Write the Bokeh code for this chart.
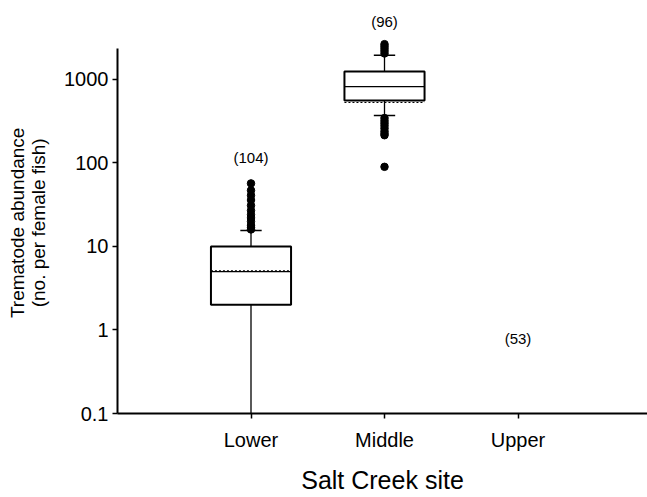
from bokeh.plotting import figure
from bokeh.models import FixedTicker, Range1d, CustomJSTickFormatter
from bokeh.core.properties import value
from bokeh.embed import file_html
from bokeh.resources import INLINE

# ---------------- data ----------------
sites = ["Lower", "Middle", "Upper"]
site_pos = [1, 2, 3]
n_fish = ["(104)", "(96)", "(53)"]
n_label_y = [115, 4950, 0.8]

box_pos = [1, 2]
q1 = [2.0, 560]
median = [5.0, 820]
q3 = [10.0, 1250]
mean = [5.1, 530]
whisk_lo = [0.01, 370]
whisk_hi = [15.5, 1950]

lower_outliers = [57, 47, 41, 36, 31, 27, 24, 22, 20, 18, 17, 16]
middle_outliers = [2050, 2200, 2350, 2500, 2650,
                   345, 320, 300, 280, 260, 240, 225, 215, 90]

y_ticks = [0.1, 1, 10, 100, 1000]
y_title = ["Trematode abundance", "(no. per female fish)"]
x_title = "Salt Creek site"

# ---------------- style ----------------
FONT = "Liberation Sans"
BOX_W = 0.6
CAP_W = 0.16
PAD = "\u00a0" * 6   # non-breaking padding: nudges the centred title a little lower

p = figure(width=647, height=497, y_axis_type="log",
           x_range=Range1d(0, 3.97), y_range=Range1d(0.1, 8830),
           output_backend="svg", toolbar_location=None,
           min_border_left=117, min_border_right=0,
           min_border_top=0, min_border_bottom=84)
p.outline_line_color = None
p.xgrid.visible = False
p.ygrid.visible = False
p.background_fill_color = "white"

# whiskers
p.segment(x0=box_pos, x1=box_pos, y0=whisk_lo, y1=q1, line_color="black", line_width=1.3)
p.segment(x0=box_pos, x1=box_pos, y0=q3, y1=whisk_hi, line_color="black", line_width=1.3)
cap_x0 = [x - CAP_W / 2 for x in box_pos]
cap_x1 = [x + CAP_W / 2 for x in box_pos]
p.segment(x0=cap_x0, x1=cap_x1, y0=whisk_hi, y1=whisk_hi, line_color="black", line_width=1.5)
p.segment(x0=cap_x0, x1=cap_x1, y0=whisk_lo, y1=whisk_lo, line_color="black", line_width=1.5)

# boxes
p.vbar(x=box_pos, width=BOX_W, bottom=q1, top=q3, fill_color="white",
       line_color="black", line_width=2)
bx0 = [x - BOX_W / 2 for x in box_pos]
bx1 = [x + BOX_W / 2 for x in box_pos]
p.segment(x0=bx0, x1=bx1, y0=median, y1=median, line_color="black", line_width=1.2)
p.segment(x0=bx0, x1=bx1, y0=mean, y1=mean, line_color="black", line_width=1.2,
          line_dash="2 2")

# outliers
p.scatter(x=[1] * len(lower_outliers), y=lower_outliers, size=7.5,
          fill_color="black", line_color="black")
p.scatter(x=[2] * len(middle_outliers), y=middle_outliers, size=7.5,
          fill_color="black", line_color="black")

# sample sizes
p.text(x=site_pos, y=n_label_y, text=n_fish, text_align="center",
       text_baseline="middle", text_font=value(FONT), text_font_size="15px",
       text_color="black")

# axes
p.xaxis.ticker = FixedTicker(ticks=site_pos)
p.xaxis.major_label_overrides = {k: s for k, s in zip(site_pos, sites)}
p.xaxis.minor_tick_line_color = None
p.xaxis.major_tick_in = 0
p.xaxis.major_tick_out = 5
p.xaxis.axis_line_width = 2
p.xaxis.major_tick_line_width = 1.5
p.xaxis.major_label_text_font = FONT
p.xaxis.major_label_text_font_size = "20px"
p.xaxis.major_label_text_color = "black"
p.xaxis.major_label_standoff = 10
p.xaxis.axis_label = x_title
p.xaxis.axis_label_text_font = FONT
p.xaxis.axis_label_text_font_size = "25px"
p.xaxis.axis_label_text_font_style = "normal"
p.xaxis.axis_label_text_color = "black"
p.xaxis.axis_label_standoff = 12

p.yaxis.ticker = FixedTicker(ticks=y_ticks)
p.yaxis.formatter = CustomJSTickFormatter(code="return String(tick);")
p.yaxis.bounds = (0.1, 2350)
p.yaxis.minor_tick_line_color = None
p.yaxis.major_tick_in = 0
p.yaxis.major_tick_out = 5
p.yaxis.axis_line_width = 2
p.yaxis.major_tick_line_width = 1.5
p.yaxis.major_label_text_font = FONT
p.yaxis.major_label_text_font_size = "20px"
p.yaxis.major_label_text_color = "black"
p.yaxis.major_label_standoff = 4
p.yaxis.axis_label = "\n".join(t + PAD for t in y_title)
p.yaxis.axis_label_text_font = FONT
p.yaxis.axis_label_text_font_size = "19px"
p.yaxis.axis_label_text_font_style = "normal"
p.yaxis.axis_label_text_color = "black"
p.yaxis.axis_label_standoff = 12
p.yaxis.axis_label_text_line_height = 1.0

open("out.html", "w").write(file_html(p, INLINE))
